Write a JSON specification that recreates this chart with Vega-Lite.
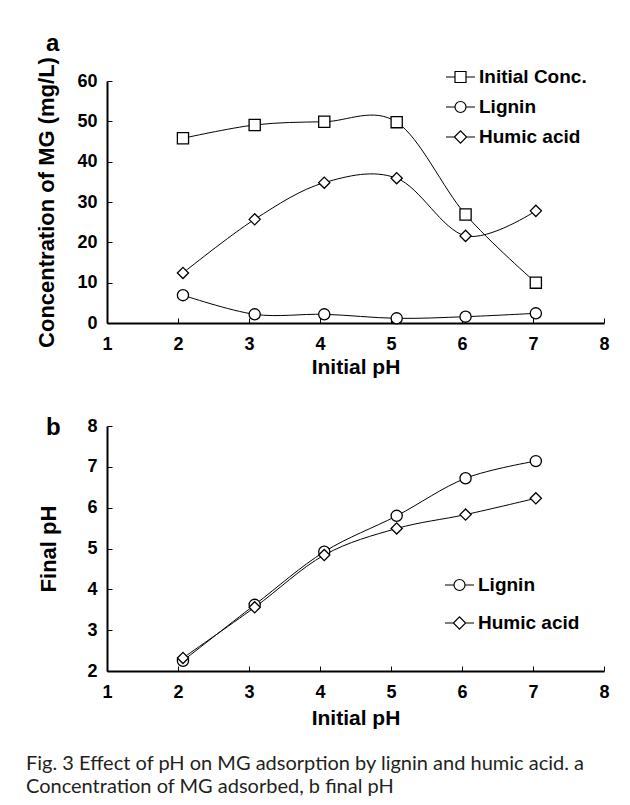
{
  "$schema": "https://vega.github.io/schema/vega-lite/v6.json",
  "background": "white",
  "padding": {"left": 25, "top": 31, "right": 5, "bottom": 5},
  "spacing": 39,
  "datasets": {
    "conc": [
      {"ph": 2.07, "value": 45.8, "series": "Initial Conc."},
      {"ph": 3.08, "value": 49.1, "series": "Initial Conc."},
      {"ph": 4.06, "value": 49.9, "series": "Initial Conc."},
      {"ph": 5.08, "value": 49.8, "series": "Initial Conc."},
      {"ph": 6.05, "value": 26.9, "series": "Initial Conc."},
      {"ph": 7.04, "value": 10.0, "series": "Initial Conc."},
      {"ph": 2.07, "value": 6.9, "series": "Lignin"},
      {"ph": 3.08, "value": 2.15, "series": "Lignin"},
      {"ph": 4.06, "value": 2.15, "series": "Lignin"},
      {"ph": 5.08, "value": 1.16, "series": "Lignin"},
      {"ph": 6.05, "value": 1.57, "series": "Lignin"},
      {"ph": 7.04, "value": 2.4, "series": "Lignin"},
      {"ph": 2.07, "value": 12.4, "series": "Humic acid"},
      {"ph": 3.08, "value": 25.7, "series": "Humic acid"},
      {"ph": 4.06, "value": 34.8, "series": "Humic acid"},
      {"ph": 5.08, "value": 35.9, "series": "Humic acid"},
      {"ph": 6.05, "value": 21.6, "series": "Humic acid"},
      {"ph": 7.04, "value": 27.8, "series": "Humic acid"}
    ],
    "final": [
      {"ph": 2.07, "value": 2.25, "series": "Lignin"},
      {"ph": 3.08, "value": 3.62, "series": "Lignin"},
      {"ph": 4.06, "value": 4.92, "series": "Lignin"},
      {"ph": 5.08, "value": 5.8, "series": "Lignin"},
      {"ph": 6.05, "value": 6.72, "series": "Lignin"},
      {"ph": 7.04, "value": 7.14, "series": "Lignin"},
      {"ph": 2.07, "value": 2.32, "series": "Humic acid"},
      {"ph": 3.08, "value": 3.56, "series": "Humic acid"},
      {"ph": 4.06, "value": 4.84, "series": "Humic acid"},
      {"ph": 5.08, "value": 5.49, "series": "Humic acid"},
      {"ph": 6.05, "value": 5.83, "series": "Humic acid"},
      {"ph": 7.04, "value": 6.23, "series": "Humic acid"}
    ]
  },
  "title": {
    "text": ["Fig. 3  Effect of pH on MG adsorption by lignin and humic acid. a", "Concentration of MG adsorbed, b final pH"],
    "orient": "bottom",
    "anchor": "start",
    "frame": "bounds",
    "dx": -10,
    "font": "Lato",
    "fontSize": 20,
    "fontWeight": "normal",
    "color": "#231f20",
    "lineHeight": 22.5,
    "baseline": "top",
    "offset": 26
  },
  "vconcat": [
    {
      "width": 497,
      "height": 242,
      "data": {"name": "conc"},
      "title": {"text": "a", "anchor": "start", "frame": "group", "dx": -61, "fontSize": 24, "font": "Liberation Sans", "fontWeight": "bold", "baseline": "alphabetic", "offset": -18, "color": "black"},
      "resolve": {"scale": {"shape": "independent"}, "legend": {"shape": "independent"}},
      "layer": [
        {
          "mark": {"type": "line", "interpolate": "cardinal", "color": "black", "strokeWidth": 1},
          "encoding": {
            "x": {"field": "ph", "type": "quantitative", "scale": {"domain": [1, 8], "nice": false}, "axis": {"values": [1, 2, 3, 4, 5, 6, 7, 8], "format": "d", "title": "Initial pH", "labelPadding": 17, "titlePadding": 3, "titleFontSize": 21}},
            "y": {"field": "value", "type": "quantitative", "scale": {"domain": [0, 60], "nice": false}, "axis": {"values": [0, 10, 20, 30, 40, 50, 60], "title": "Concentration of MG (mg/L)", "labelPadding": 15, "titlePadding": 18, "titleFontSize": 22}},
            "detail": {"field": "series"}
          }
        },
        {
          "mark": {"type": "point", "filled": true, "fill": "white", "stroke": "black", "strokeWidth": 1.3, "size": 125, "opacity": 1},
          "encoding": {
            "x": {"field": "ph", "type": "quantitative"},
            "y": {"field": "value", "type": "quantitative"},
            "shape": {
              "field": "series",
              "type": "nominal",
              "scale": {"domain": ["Initial Conc.", "Lignin", "Humic acid"], "range": ["square", "circle", "diamond"]},
              "legend": null
            }
          }
        },
        {
          "transform": [{"filter": "false"}],
          "mark": {"type": "point", "filled": false, "stroke": "black", "strokeWidth": 1.2, "size": 841, "opacity": 1},
          "encoding": {
            "x": {"field": "ph", "type": "quantitative"},
            "y": {"field": "value", "type": "quantitative"},
            "shape": {
              "field": "series",
              "type": "nominal",
              "scale": {"domain": ["Initial Conc.", "Lignin", "Humic acid"], "range": ["M-1,0H-0.38M-0.38,-0.38H0.38V0.38H-0.38ZM0.38,0H1", "M-1,0H-0.38M-0.38,0A0.38,0.38 0 1,1 0.38,0A0.38,0.38 0 1,1 -0.38,0ZM0.38,0H1", "M-1,0H-0.42M-0.42,0L0,-0.42L0.42,0L0,0.42ZM0.42,0H1"]},
              "legend": {
                "orient": "none", "legendX": 338, "legendY": -19.5, "title": null, "padding": 0,
                "symbolSize": 841, "symbolFillColor": "white", "symbolStrokeColor": "black", "symbolStrokeWidth": 1.2, "symbolOpacity": 1,
                "labelFont": "Liberation Sans", "labelFontSize": 19, "labelFontWeight": "bold", "labelColor": "black", "labelOffset": 3, "rowPadding": 4,
                "encode": {"symbols": {"update": {"stroke": {"value": "black"}, "fill": {"value": "white"}, "opacity": {"value": 1}, "strokeWidth": {"value": 1.2}}}}
              }
            }
          }
        }
      ]
    },
    {
      "width": 497,
      "height": 245,
      "data": {"name": "final"},
      "title": {"text": "b", "anchor": "start", "frame": "group", "dx": -61, "fontSize": 24, "font": "Liberation Sans", "fontWeight": "bold", "baseline": "alphabetic", "offset": -42, "color": "black"},
      "resolve": {"scale": {"shape": "independent"}, "legend": {"shape": "independent"}},
      "layer": [
        {
          "mark": {"type": "line", "interpolate": "cardinal", "color": "black", "strokeWidth": 1},
          "encoding": {
            "x": {"field": "ph", "type": "quantitative", "scale": {"domain": [1, 8], "nice": false}, "axis": {"values": [1, 2, 3, 4, 5, 6, 7, 8], "format": "d", "title": "Initial pH", "labelPadding": 17, "titlePadding": 6, "titleFontSize": 21}},
            "y": {"field": "value", "type": "quantitative", "scale": {"domain": [2, 8], "nice": false}, "axis": {"values": [2, 3, 4, 5, 6, 7, 8], "format": "d", "title": "Final pH", "labelPadding": 15, "titlePadding": 26, "titleFontSize": 22}},
            "detail": {"field": "series"}
          }
        },
        {
          "mark": {"type": "point", "filled": true, "fill": "white", "stroke": "black", "strokeWidth": 1.3, "size": 125, "opacity": 1},
          "encoding": {
            "x": {"field": "ph", "type": "quantitative"},
            "y": {"field": "value", "type": "quantitative"},
            "shape": {
              "field": "series",
              "type": "nominal",
              "scale": {"domain": ["Lignin", "Humic acid"], "range": ["circle", "diamond"]},
              "legend": null
            }
          }
        },
        {
          "transform": [{"filter": "false"}],
          "mark": {"type": "point", "filled": false, "stroke": "black", "strokeWidth": 1.2, "size": 841, "opacity": 1},
          "encoding": {
            "x": {"field": "ph", "type": "quantitative"},
            "y": {"field": "value", "type": "quantitative"},
            "shape": {
              "field": "series",
              "type": "nominal",
              "scale": {"domain": ["Lignin", "Humic acid"], "range": ["M-1,0H-0.38M-0.38,0A0.38,0.38 0 1,1 0.38,0A0.38,0.38 0 1,1 -0.38,0ZM0.38,0H1", "M-1,0H-0.42M-0.42,0L0,-0.42L0.42,0L0,0.42ZM0.42,0H1"]},
              "legend": {
                "orient": "none", "legendX": 337, "legendY": 143.5, "title": null, "padding": 0,
                "symbolSize": 841, "symbolFillColor": "white", "symbolStrokeColor": "black", "symbolStrokeWidth": 1.2, "symbolOpacity": 1,
                "labelFont": "Liberation Sans", "labelFontSize": 19, "labelFontWeight": "bold", "labelColor": "black", "labelOffset": 3, "rowPadding": 12,
                "encode": {"symbols": {"update": {"stroke": {"value": "black"}, "fill": {"value": "white"}, "opacity": {"value": 1}, "strokeWidth": {"value": 1.2}}}}
              }
            }
          }
        }
      ]
    }
  ],
  "config": {
    "view": {"stroke": null},
    "axis": {"domainColor": "black", "domainWidth": 2, "tickColor": "black", "tickWidth": 1, "tickSize": -5, "labelFont": "Liberation Sans", "labelFontWeight": "bold", "labelFontSize": 18, "labelColor": "black", "titleFont": "Liberation Sans", "titleFontWeight": "bold", "titleColor": "black", "grid": false, "labelFlush": false, "labelOverlap": false}
  }
}
